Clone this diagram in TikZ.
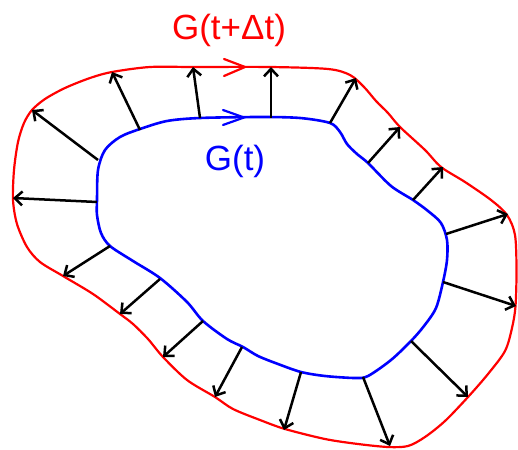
\documentclass[tikz,border=0pt]{standalone}
\usepackage{fontspec}
\setmainfont{Liberation Sans}
\usetikzlibrary{arrows.meta}
\definecolor{myred}{RGB}{255,0,0}
\definecolor{myblue}{RGB}{0,0,255}
\tikzset{
  outerline/.style={myred,line width=2.2pt,line join=round},
  innerline/.style={myblue,line width=2.6pt,line join=round},
  normalarrow/.style={black,line width=2.5pt,-{Straight Barb[length=7.5pt,width=14pt]}},
  chevron/.style={line width=2.2pt,line cap=round,line join=miter},
  lbl/.style={font=\fontsize{35}{40}\selectfont,anchor=base,inner sep=0pt}
}
\begin{document}
\begin{tikzpicture}[x=1pt,y=-1pt]
\useasboundingbox (0,0) rectangle (518,449);
% outer curve
\draw[outerline] plot[smooth cycle,tension=0.5] coordinates {
(13,200) (14,170) (18,142) (24,123) (32,110) (45,99) (65,88) (90,78) (112,72) (150,67) (193,67) (270,67) (328,69) (350,75) (364,87) (376,101) (388,113) (400,127) (425,150) (441,167) (465,182) (491,200) (507,215) (515,235) (516.5,270) (515.5,306) (512,328) (505,351) (488,374) (468,397) (445,421) (425,437) (408,446) (388,447) (358,444) (325,439) (285,429) (260,420) (233,409) (215,397) (187,380) (163,357) (148,339) (133,324) (120,314) (93,294) (63,276) (40,262) (27,247) (17,224)};
% inner curve
\draw[innerline] plot[smooth cycle,tension=0.5] coordinates {
(97,200) (98,170) (105,150) (120,137) (140,129) (167,121) (200,118) (260,117) (300,118) (330,123) (340,132) (347,144) (357,154) (368,163) (391,186) (413,200) (428,211) (441,223) (447,240) (447,260) (443,282) (436,308) (424,326) (411,341) (391,360) (368,376) (355,378) (325,376) (301,372) (278,364) (258,356) (243,347) (227,339) (203,321) (187,302) (160,278) (133,261) (110,246) (101,233) (97,215)};
% direction chevrons
\draw[chevron,myred] (224,59) -- (245,67) -- (224,76);
\draw[chevron,myblue] (223,110) -- (244,117.5) -- (223,125);
% labels
\node[lbl,text=myred] (lout) at (229,40) {G(t+Δt)};
\node[lbl,text=myblue] (lin) at (235,170) {G(t)};
% arrow end points
\foreach \n/\sx/\sy/\ex/\ey in {
 1/97/202/13/198, 2/98/160/32/110, 3/140/130/112/72, 4/200/118/193/67,
 5/271/118/271/67, 6/330/123/356/78, 7/368/163/400/127, 8/413/200/443/167,
 9/446/234/508/214, 10/443/282/516/306, 11/411/341/468/397, 12/363/377/390/446,
 13/301/372/284/430, 14/242/347/215/397, 15/203/321/163/357, 16/160/279/120/314,
 17/110/246/63/276}{
  \coordinate (s\n) at (\sx,\sy);
  \coordinate (e\n) at (\ex,\ey);
  \draw[normalarrow] (s\n) -- (e\n);
}
\end{tikzpicture}
\end{document}
